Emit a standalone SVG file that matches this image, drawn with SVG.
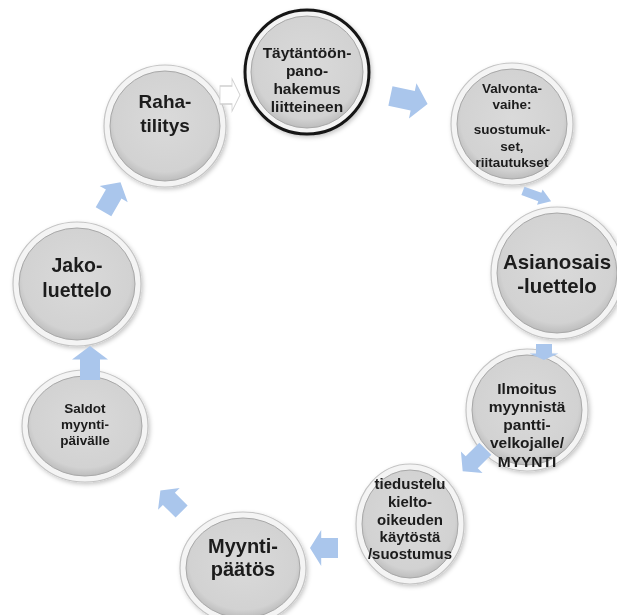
<svg xmlns="http://www.w3.org/2000/svg" width="617" height="615" viewBox="0 0 617 615">
<defs>
  <radialGradient id="g" cx="50%" cy="45%" r="55%">
    <stop offset="0" stop-color="#dadada"/>
    <stop offset="0.85" stop-color="#d2d2d2"/>
    <stop offset="1" stop-color="#bdbdbd"/>
  </radialGradient>
  <filter id="sh" x="-20%" y="-20%" width="140%" height="140%">
    <feDropShadow dx="1.5" dy="2" stdDeviation="2" flood-color="#000" flood-opacity="0.22"/>
  </filter>
  <path id="arr" d="M-20,-10 H4 V-18 L20,0 L4,18 V10 H-20 Z"/>
</defs>
<style>
  .rim { fill: #f4f4f4; stroke: #c4c4c4; stroke-width: 1.2; }
  .face { fill: url(#g); stroke: #a8a8a8; stroke-width: 1; }
  .t { font-family: "Liberation Sans", Arial, sans-serif; font-weight: bold; fill: #1a1a1a; text-anchor: middle; }
  .a { fill: #aac6ec; }
  .ao { fill: #ffffff; stroke: #d0d0d0; stroke-width: 1.5; }
</style>
<rect width="617" height="615" fill="#ffffff"/>

<g id="n1" filter="url(#sh)">
  <circle cx="307" cy="72" r="62" fill="#f4f4f4" stroke="#151515" stroke-width="3"/>
  <circle cx="307" cy="72" r="56" class="face"/>
  <text class="t" font-size="15.5"><tspan x="307" y="58">Täytäntöön-</tspan><tspan x="307" y="76">pano-</tspan><tspan x="307" y="94">hakemus</tspan><tspan x="307" y="112">liitteineen</tspan></text>
</g>

<g id="n2" filter="url(#sh)">
  <circle cx="512" cy="124" r="61" class="rim"/>
  <circle cx="512" cy="124" r="55" class="face"/>
  <text class="t" font-size="13.5"><tspan x="512" y="93">Valvonta-</tspan><tspan x="512" y="109">vaihe:</tspan><tspan x="512" y="134">suostumuk-</tspan><tspan x="512" y="151">set,</tspan><tspan x="512" y="167">riitautukset</tspan></text>
</g>

<g id="n3" filter="url(#sh)">
  <circle cx="557" cy="273" r="66" class="rim"/>
  <circle cx="557" cy="273" r="60" class="face"/>
  <text class="t" font-size="20.5"><tspan x="557" y="269">Asianosais</tspan><tspan x="557" y="293">-luettelo</tspan></text>
</g>

<g id="n4" filter="url(#sh)">
  <circle cx="527" cy="410" r="61" class="rim"/>
  <circle cx="527" cy="410" r="55" class="face"/>
  <text class="t" font-size="15.5"><tspan x="527" y="394">Ilmoitus</tspan><tspan x="527" y="412">myynnistä</tspan><tspan x="527" y="430">pantti-</tspan><tspan x="527" y="448">velkojalle/</tspan><tspan x="527" y="467">MYYNTI</tspan></text>
</g>

<g id="n5" filter="url(#sh)">
  <ellipse cx="410" cy="524" rx="54" ry="60" class="rim"/>
  <ellipse cx="410" cy="524" rx="48" ry="54" class="face"/>
  <text class="t" font-size="15"><tspan x="410" y="489">tiedustelu</tspan><tspan x="410" y="507">kielto-</tspan><tspan x="410" y="525">oikeuden</tspan><tspan x="410" y="542">käytöstä</tspan><tspan x="410" y="559">/suostumus</tspan></text>
</g>

<g id="n6" filter="url(#sh)">
  <ellipse cx="243" cy="568" rx="63" ry="56" class="rim"/>
  <ellipse cx="243" cy="568" rx="57" ry="50" class="face"/>
  <text class="t" font-size="20"><tspan x="243" y="553">Myynti-</tspan><tspan x="243" y="576">päätös</tspan></text>
</g>

<g id="n7" filter="url(#sh)">
  <ellipse cx="85" cy="426" rx="63" ry="56" class="rim"/>
  <ellipse cx="85" cy="426" rx="57" ry="50" class="face"/>
  <text class="t" font-size="13.5"><tspan x="85" y="413">Saldot</tspan><tspan x="85" y="429">myynti-</tspan><tspan x="85" y="445">päivälle</tspan></text>
</g>

<g id="n8" filter="url(#sh)">
  <ellipse cx="77" cy="284" rx="64" ry="62" class="rim"/>
  <ellipse cx="77" cy="284" rx="58" ry="56" class="face"/>
  <text class="t" font-size="19.5"><tspan x="77" y="272">Jako-</tspan><tspan x="77" y="297">luettelo</tspan></text>
</g>

<g id="n9" filter="url(#sh)">
  <circle cx="165" cy="126" r="61" class="rim"/>
  <circle cx="165" cy="126" r="55" class="face"/>
  <text class="t" font-size="19"><tspan x="165" y="108">Raha-</tspan><tspan x="165" y="132">tilitys</tspan></text>
</g>

<g id="connectors">
  <use href="#arr" class="a" transform="translate(409,100) rotate(12) scale(0.95,1)"/>
  <use href="#arr" class="a" transform="translate(537,196) rotate(20) scale(0.75,0.45)"/>
  <use href="#arr" class="a" transform="translate(544,352) rotate(90) scale(0.4,0.8)"/>
  <use href="#arr" class="a" transform="translate(474,460) rotate(135) scale(0.8,0.85)"/>
  <use href="#arr" class="a" transform="translate(324,548) rotate(180) scale(0.7,1)"/>
  <use href="#arr" class="a" transform="translate(171,501) rotate(-135) scale(0.75,0.85)"/>
  <use href="#arr" class="a" transform="translate(90,363) rotate(-90) scale(0.85,1)"/>
  <use href="#arr" class="a" transform="translate(112,197) rotate(-60) scale(0.85,0.9)"/>
  <use href="#arr" class="ao" transform="translate(230,95) scale(0.5,0.9)"/>
</g>
</svg>
